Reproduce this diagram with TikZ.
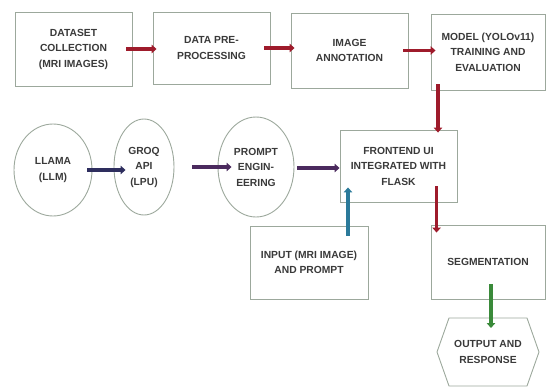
\documentclass[tikz,border=0pt]{standalone}
\usepackage{fontspec}
\setmainfont{Liberation Sans}
\usetikzlibrary{arrows.meta,shapes.geometric,calc}
\definecolor{outl}{HTML}{9CA89C}
\definecolor{txt}{HTML}{3A3A3A}
\definecolor{redarr}{HTML}{9E1B2B}
\definecolor{navyarr}{HTML}{2E2E5E}
\definecolor{purparr}{HTML}{4B2A5E}
\definecolor{bluearr}{HTML}{2B7A9A}
\definecolor{greenarr}{HTML}{3A8A3A}
\tikzset{
  lbl/.style={font=\fontsize{10.3}{15.5}\selectfont\bfseries, text=txt, align=center},
  boxn/.style={lbl, draw=outl, line width=0.9pt, fill=white, inner sep=0pt},
  elln/.style={lbl, ellipse, draw=outl, line width=0.9pt, inner sep=0pt},
  arr/.style={line width=3.6pt, -{Triangle[length=5pt,width=8.5pt]}},
}
\begin{document}
\begin{tikzpicture}[x=1pt,y=-1pt]
\useasboundingbox (0,0) rectangle (547,391);
% top row
\node[boxn, minimum width=117pt, minimum height=74pt] (b1) at (73.5,49) {DATASET\\COLLECTION\\(MRI IMAGES)};
\node[boxn, minimum width=117pt, minimum height=72pt] (b2) at (211.5,48) {DATA PRE-\\PROCESSING};
\node[boxn, minimum width=117pt, minimum height=75pt] (b3) at (349.5,50.5) {IMAGE\\ANNOTATION};
\node[boxn, minimum width=114pt, minimum height=76pt] (b4) at (488,52) {MODEL (YOLOv11)\\TRAINING AND\\EVALUATION};
% middle row
\node[elln, minimum width=78pt, minimum height=92pt] (llama) at (53,170) {LLAMA\\(LLM)};
\node[elln, minimum width=60pt, minimum height=96pt] (groq) at (144,167) {GROQ\\API\\(LPU)};
\node[elln, minimum width=76pt, minimum height=100pt] (prompt) at (256,167) {PROMPT\\ENGIN-\\EERING};
\node[boxn, minimum width=117pt, minimum height=72pt] (fe) at (398.5,166) {FRONTEND UI\\INTEGRATED WITH\\FLASK};
% bottom row
\node[boxn, minimum width=118pt, minimum height=73pt] (in) at (309,262.5) {INPUT (MRI IMAGE)\\AND PROMPT};
\node[boxn, minimum width=114pt, minimum height=74pt] (seg) at (488,262) {SEGMENTATION};
\node[lbl] (out) at (488,352) {OUTPUT AND\\RESPONSE};
\draw[outl, line width=0.9pt] ($(out)+(-51,0)$) -- ($(out)+(-39,-34)$) -- ($(out)+(39,-34)$) -- ($(out)+(51,0)$) -- ($(out)+(39,34)$) -- ($(out)+(-39,34)$) -- cycle;
\coordinate (outtop) at ($(out)+(3,-34)$);
% arrows
\draw[arr, redarr] ([xshift=-6pt]b1.east) -- ([xshift=4pt]b1.east -| b2.west);
\draw[arr, redarr] ([xshift=-6pt]b2.east) -- ([xshift=4pt]b2.east -| b3.west);
\draw[arr, redarr] ([xshift=-5pt]b3.east) -- ([xshift=5pt]b3.east -| b4.west);
\draw[arr, redarr] ([xshift=-50pt,yshift=6pt]b4.south) -- ([xshift=-50pt,yshift=-3pt]b4.south |- fe.north);
\draw[arr, redarr] ([xshift=6pt,yshift=16pt]seg.north west |- fe.south) -- ([xshift=6pt,yshift=-8pt]seg.north west);
\draw[arr, navyarr] ([xshift=-5pt]llama.east) -- ([xshift=12pt]llama.east -| groq.west);
\draw[arr, purparr] ([xshift=18pt]groq.east) -- ([xshift=14pt]groq.east -| prompt.west);
\draw[arr, purparr] ([xshift=3pt,yshift=-1pt]prompt.east) -- ([yshift=-1pt]prompt.east -| fe.west);
\draw[arr, bluearr] ([xshift=39pt,yshift=-10pt]in.north) -- ([xshift=39pt,yshift=15pt]in.north |- fe.south);
\draw[arr, greenarr] ([xshift=3pt,yshift=15pt]seg.south) -- ([yshift=-10pt]outtop);
\end{tikzpicture}
\end{document}
